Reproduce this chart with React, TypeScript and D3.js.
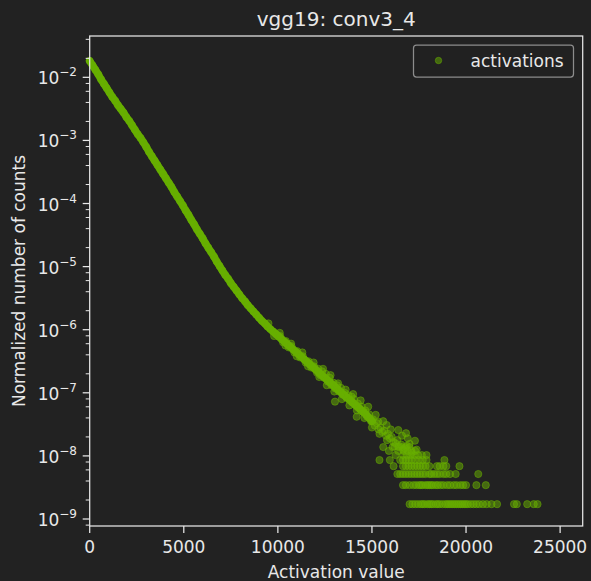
import React from "react";
import * as d3 from "d3";

// main band of the histogram: activation value, log10 of normalized count
const bandX = [
  0, 150, 300, 450, 600, 750, 900, 1050, 1200, 1350, 1500, 1650, 1800, 1950,
  2100, 2250, 2400, 2550, 2700, 2850, 3000, 3150, 3300, 3450, 3600, 3750, 3900,
  4050, 4200, 4350, 4500, 4650, 4800, 4950, 5100, 5250, 5400, 5550, 5700, 5850,
  6000, 6150, 6300, 6450, 6600, 6750, 6900, 7050, 7200, 7350, 7500, 7650, 7800,
  7950, 8100, 8250, 8400, 8550, 8700, 8850, 9000, 9150, 9300, 9450, 9600, 9750,
  9900, 10050, 10200, 10350, 10500, 10650, 10800, 10950, 11100, 11250, 11400,
  11550, 11700, 11850, 12000, 12150, 12300, 12450, 12600, 12750, 12900, 13050,
  13200, 13350, 13500, 13650, 13800, 13950, 14100, 14250, 14400, 14550, 14700,
  14850, 15000,
];
const bandLog = [
  -1.74, -1.81, -1.88, -1.95, -2.03, -2.1, -2.17, -2.24, -2.31, -2.37, -2.44,
  -2.5, -2.56, -2.63, -2.69, -2.76, -2.83, -2.9, -2.96, -3.03, -3.1, -3.18,
  -3.25, -3.32, -3.39, -3.46, -3.53, -3.6, -3.67, -3.74, -3.82, -3.89, -3.96,
  -4.03, -4.11, -4.18, -4.26, -4.33, -4.41, -4.48, -4.55, -4.63, -4.7, -4.77,
  -4.84, -4.92, -4.99, -5.06, -5.13, -5.19, -5.26, -5.32, -5.38, -5.44, -5.5,
  -5.55, -5.61, -5.66, -5.71, -5.76, -5.81, -5.86, -5.9, -5.95, -5.99, -6.03,
  -6.07, -6.11, -6.15, -6.19, -6.23, -6.27, -6.31, -6.35, -6.39, -6.43, -6.47,
  -6.51, -6.55, -6.59, -6.63, -6.67, -6.71, -6.75, -6.79, -6.83, -6.87, -6.91,
  -6.95, -6.99, -7.03, -7.07, -7.11, -7.15, -7.19, -7.23, -7.27, -7.31, -7.35,
  -7.4, -7.45,
];

// looser points where the band starts to spread out
const cloudX = [
  9500, 9800, 10100, 10125, 10275, 10400, 10425, 10575, 10700, 10725, 10875,
  11000, 11025, 11175, 11300, 11325, 11475, 11600, 11625, 11775, 11900, 11925,
  12075, 12150, 12200, 12250, 12350, 12400, 12450, 12550, 12600, 12650, 12750,
  12800, 12850, 12950, 13000, 13035, 13050, 13150, 13200, 13250, 13350, 13400,
  13450, 13550, 13600, 13650, 13750, 13800, 13850, 13920, 13950, 14000, 14050,
  14150, 14190, 14200, 14250, 14350, 14400, 14450, 14550, 14600, 14650, 14750,
  14800, 14850, 14950, 15000, 15050, 15150, 15200, 15250, 15335, 15350, 15400,
  15450, 15550, 15600, 15650, 15750, 15780, 15800, 15850, 15950, 16000, 16050,
  16150, 16200, 16250, 16350, 16400, 16450, 16550, 16600, 16650, 16750, 16810,
  16850, 16900, 17000, 17100, 17285, 17375,
];
const cloudLog = [
  -5.9, -6.1, -6.05, -6.1, -6.2, -6.25, -6.18, -6.28, -6.22, -6.26, -6.36,
  -6.42, -6.34, -6.44, -6.36, -6.42, -6.52, -6.58, -6.5, -6.6, -6.52, -6.58,
  -6.68, -6.62, -6.75, -6.72, -6.66, -6.62, -6.76, -6.7, -6.88, -6.82, -6.76,
  -6.72, -6.88, -6.84, -6.98, -7.14, -6.93, -6.88, -6.85, -6.98, -6.92, -7.1,
  -7.03, -7.0, -6.95, -7.08, -7.04, -7.2, -7.12, -7.06, -7.15, -7.02, -7.1,
  -7.2, -7.38, -7.28, -7.17, -7.25, -7.12, -7.22, -7.3, -7.4, -7.28, -7.38,
  -7.22, -7.34, -7.45, -7.55, -7.42, -7.52, -7.35, -7.48, -7.46, -7.58, -7.65,
  -7.55, -7.62, -7.45, -7.6, -7.68, -7.51, -7.75, -7.65, -7.72, -7.58, -7.7,
  -7.78, -7.85, -7.8, -7.75, -7.59, -7.85, -7.82, -7.68, -7.9, -7.88, -7.64,
  -7.84, -7.72, -7.81, -7.95, -7.76, -7.9,
];

// tail: bins with 1..8 counts line up in rows
const rowLevels = [1.72e-9, 3.44e-9, 5.16e-9, 6.88e-9, 8.6e-9, 1.03e-8, 1.2e-8, 1.38e-8];
const rowX = [
  [17000, 17150, 17300, 17450, 17600, 17700, 17800, 17950, 18050, 18150, 18250, 18400,
    18500, 18600, 18750, 18900, 19000, 19100, 19200, 19300, 19400, 19500, 19600, 19700,
    19800, 19900, 20000, 20100, 20250, 20400, 20550, 20700, 20900, 21100, 21350, 21650,
    22550, 22700, 23250, 23600, 23800],
  [16650, 16800, 17000, 17200, 17350, 17500, 17600, 17700, 17850, 17950, 18050, 18150,
    18250, 18400, 18500, 18650, 18800, 19000, 19150, 19350, 19500, 19700, 19850, 20000,
    20550, 21050],
  [16350, 16500, 16650, 16800, 16950, 17100, 17250, 17400, 17550, 17700, 17850, 18050,
    18150, 18300, 18450, 18600, 18800, 18950, 19150, 19450, 20650],
  [16150, 16650, 16800, 16950, 17100, 17250, 17400, 17550, 17700, 17850, 18050, 18450,
    18600, 18800, 18950, 19650],
  [15400, 15950, 16500, 16650, 16800, 16950, 17100, 17300, 17500, 17700, 17900, 18850],
  [16250, 16650, 16850, 17050, 17250, 17450, 17650, 17900],
  [15900, 16400, 16700, 16900, 17100, 17300],
  [15600, 16100, 16400, 16600, 16800, 17000],
];

const xTicks = [0, 5000, 10000, 15000, 20000, 25000];
const yDecades = [-2, -3, -4, -5, -6, -7, -8, -9];
const yMinorSubs = [2, 4, 6, 8];

const W = 591;
const H = 581;
const left = 89.7;
const right = 582.7;
const top = 36;
const bottom = 526;

const bg = "#222222";
const fg = "#e8e8e8";
const green = "#67b000";
const font = "DejaVu Sans, sans-serif";

export default function App() {
  const x = d3.scaleLinear().domain([0, 26200]).range([left, right]);
  const y = d3
    .scaleLog()
    .domain([Math.pow(10, -9.111), Math.pow(10, -1.345)])
    .range([bottom, top]);

  const band: [number, number][] = bandX.map((v, i) => [v, Math.pow(10, bandLog[i])]);
  const points: [number, number][] = [...band];
  cloudX.forEach((v, i) => points.push([v, Math.pow(10, cloudLog[i])]));
  rowX.forEach((row, r) => row.forEach((v) => points.push([v, rowLevels[r]])));

  // the overlapping markers of the dense part merge into one solid stroke
  const bandPath = d3
    .line<[number, number]>()
    .x((d) => x(d[0]))
    .y((d) => y(d[1]))
    .curve(d3.curveMonotoneX)(band);

  const [yMin, yMax] = y.domain();
  const minorTicks: number[] = [];
  for (let e = -10; e <= -1; e++) {
    yMinorSubs.forEach((s) => {
      const v = s * Math.pow(10, e);
      if (v >= yMin && v <= yMax) minorTicks.push(v);
    });
  }

  return (
    <svg
      width={W}
      height={H}
      style={{ position: "absolute", left: 0, top: 0, background: bg }}
    >
      <rect width={W} height={H} fill={bg} />

      {/* title */}
      <text
        x={(left + right) / 2}
        y={26}
        textAnchor="middle"
        fill={fg}
        fontFamily={font}
        fontSize={20}
      >
        vgg19: conv3_4
      </text>

      {/* scatter */}
      <path
        d={bandPath || ""}
        fill="none"
        stroke="#64ad00"
        strokeWidth={7.5}
        strokeLinecap="round"
      />
      <g>
        {points.map((p, i) => (
          <circle
            key={i}
            cx={x(p[0])}
            cy={y(p[1])}
            r={3.6}
            fill={green}
            fillOpacity={0.5}
            stroke={green}
            strokeOpacity={0.5}
            strokeWidth={1}
          />
        ))}
      </g>

      {/* frame */}
      <rect
        x={left}
        y={top}
        width={right - left}
        height={bottom - top}
        fill="none"
        stroke={fg}
        strokeWidth={1.25}
      />

      {/* x axis */}
      {xTicks.map((t) => (
        <g key={t}>
          <line x1={x(t)} x2={x(t)} y1={bottom} y2={bottom + 7} stroke={fg} strokeWidth={1.25} />
          <text
            x={x(t)}
            y={553}
            textAnchor="middle"
            fill={fg}
            fontFamily={font}
            fontSize={17}
          >
            {t}
          </text>
        </g>
      ))}
      <text
        x={(left + right) / 2}
        y={578}
        textAnchor="middle"
        fill={fg}
        fontFamily={font}
        fontSize={17}
      >
        Activation value
      </text>

      {/* y axis */}
      {minorTicks.map((t, i) => (
        <line key={i} x1={left - 4} x2={left} y1={y(t)} y2={y(t)} stroke={fg} strokeWidth={1} />
      ))}
      {yDecades.map((e) => {
        const yy = y(Math.pow(10, e));
        return (
          <g key={e}>
            <line x1={left - 7} x2={left} y1={yy} y2={yy} stroke={fg} strokeWidth={1.25} />
            <text
              x={77}
              y={yy + 7}
              textAnchor="end"
              fill={fg}
              fontFamily={font}
              fontSize={17}
            >
              <tspan>10</tspan>
              <tspan dy={-8} fontSize={12}>
                {"\u2212" + Math.abs(e)}
              </tspan>
            </text>
          </g>
        );
      })}
      <text
        transform={`translate(25,${(top + bottom) / 2}) rotate(-90)`}
        textAnchor="middle"
        fill={fg}
        fontFamily={font}
        fontSize={17}
      >
        Normalized number of counts
      </text>

      {/* legend */}
      <rect
        x={413.5}
        y={45}
        width={160}
        height={32}
        rx={3}
        fill={bg}
        fillOpacity={0.8}
        stroke="#8c8c8c"
        strokeWidth={1.25}
      />
      <circle
        cx={438.5}
        cy={60.5}
        r={3.2}
        fill={green}
        fillOpacity={0.5}
        stroke={green}
        strokeOpacity={0.5}
      />
      <text x={470.5} y={67} fill={fg} fontFamily={font} fontSize={17}>
        activations
      </text>
    </svg>
  );
}
